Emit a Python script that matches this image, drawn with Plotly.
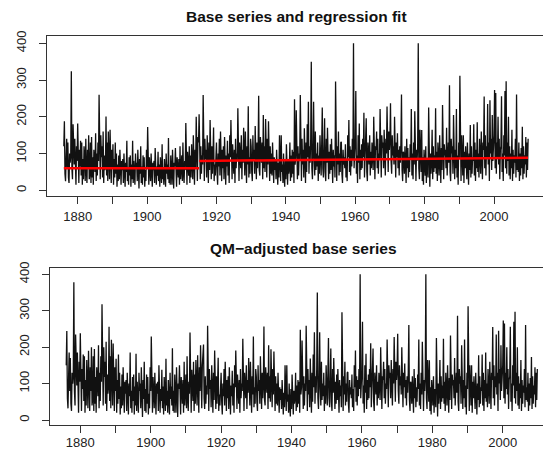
import numpy as np
import plotly.graph_objects as go

# 6 readings per year, 1876-1914 (before the break)
base_early = [
    120, 188, 45, 25, 90, 140,
    60, 130, 35, 20, 100, 75,
    95, 324, 60, 30, 180, 110,
    70, 140, 25, 15, 120, 80,
    182, 50, 20, 110, 65, 135,
    40, 130, 15, 85, 30, 120,
    95, 25, 140, 55, 20, 110,
    60, 150, 30, 45, 130, 20,
    145, 35, 90, 15, 110, 60,
    50, 155, 25, 100, 40, 130,
    80, 260, 45, 30, 150, 90,
    120, 35, 160, 20, 95, 55,
    70, 201, 40, 130, 25, 160,
    90, 30, 165, 50, 20, 110,
    60, 125, 15, 85, 35, 130,
    45, 100, 10, 70, 25, 95,
    30, 110, 40, 15, 80, 55,
    85, 20, 100, 35, 10, 75,
    50, 135, 25, 60, 15, 90,
    40, 95, 10, 70, 30, 135,
    20, 80, 45, 15, 100, 60,
    75, 25, 110, 30, 5, 85,
    45, 120, 20, 65, 15, 95,
    35, 90, 10, 55, 25, 110,
    60, 172, 30, 15, 90, 45,
    25, 100, 40, 10, 75, 55,
    80, 20, 115, 35, 15, 65,
    40, 105, 25, 70, 10, 90,
    55, 20, 125, 30, 60, 15,
    85, 35, 10, 100, 45, 70,
    30, 142, 20, 60, 15, 95,
    50, 15, 110, 40, 5, 75,
    65, 115, 25, 10, 90, 40,
    35, 85, 15, 120, 30, 60,
    95, 25, 130, 45, 20, 80,
    55, 183, 30, 15, 105, 70,
    40, 120, 20, 95, 35, 125,
    75, 30, 150, 50, 15, 110,
    60, 200, 40, 25, 145, 130,
]

# 1915-2009 (after the break, same in both panels)
base_late = [
    207, 60, 30, 120, 45, 95,
    70, 259, 40, 25, 140, 85,
    110, 35, 150, 60, 20, 130,
    55, 191, 80, 30, 120, 45,
    95, 171, 25, 70, 40, 115,
    130, 50, 15, 100, 65, 140,
    40, 160, 85, 25, 110, 60,
    120, 30, 145, 70, 15, 95,
    65, 135, 40, 100, 20, 150,
    90, 191, 55, 30, 125, 75,
    45, 110, 20, 140, 60, 100,
    80, 223, 45, 25, 130, 95,
    60, 150, 30, 110, 75, 170,
    105, 40, 160, 55, 20, 120,
    70, 229, 35, 90, 45, 140,
    120, 50, 25, 150, 80, 110,
    45, 175, 90, 30, 130, 60,
    100, 257, 55, 40, 145, 85,
    75, 130, 30, 205, 60, 120,
    50, 194, 90, 35, 140, 70,
    188, 60, 25, 120, 45, 100,
    40, 130, 70, 20, 90, 55,
    85, 30, 110, 45, 15, 75,
    35, 150, 60, 25, 150, 50,
    70, 20, 100, 40, 10, 85,
    30, 125, 55, 15, 80, 45,
    60, 130, 25, 95, 35, 110,
    45, 105, 20, 248, 70, 90,
    218, 55, 30, 120, 40, 100,
    80, 259, 45, 25, 140, 70,
    110, 35, 169, 60, 20, 130,
    50, 180, 90, 241, 45, 120,
    75, 140, 350, 60, 30, 115,
    241, 85, 40, 160, 55, 100,
    65, 130, 25, 95, 45, 150,
    90, 40, 125, 225, 60, 35,
    110, 196, 50, 25, 140, 75,
    170, 60, 30, 105, 45, 125,
    55, 140, 85, 20, 110, 65,
    95, 35, 296, 60, 25, 120,
    70, 160, 40, 100, 50, 130,
    132, 45, 20, 110, 70, 90,
    60, 125, 35, 85, 25, 150,
    90, 191, 50, 120, 40, 110,
    65, 140, 85, 400, 60, 100,
    130, 270, 45, 95, 20, 150,
    75, 182, 30, 110, 55, 125,
    60, 140, 90, 211, 35, 100,
    120, 196, 50, 25, 130, 85,
    70, 150, 40, 105, 60, 130,
    95, 55, 200, 80, 30, 120,
    110, 160, 60, 140, 45, 100,
    85, 221, 70, 35, 150, 115,
    130, 60, 165, 95, 40, 140,
    100, 228, 75, 50, 160, 110,
    140, 237, 80, 45, 150, 95,
    120, 70, 200, 100, 35, 130,
    90, 155, 60, 110, 40, 120,
    75, 130, 261, 55, 25, 105,
    100, 45, 120, 70, 20, 140,
    60, 115, 35, 90, 50, 125,
    85, 221, 40, 100, 30, 130,
    70, 215, 55, 25, 110, 80,
    120, 400, 60, 30, 165, 95,
    50, 164, 25, 90, 15, 110,
    70, 40, 120, 20, 85, 55,
    35, 225, 60, 10, 100, 45,
    80, 165, 30, 120, 50, 95,
    60, 223, 45, 105, 25, 130,
    90, 40, 150, 70, 20, 115,
    55, 232, 80, 30, 125, 95,
    110, 60, 170, 40, 90, 130,
    75, 286, 50, 25, 140, 100,
    120, 45, 205, 80, 30, 110,
    60, 221, 35, 95, 15, 130,
    85, 312, 50, 25, 150, 70,
    40, 150, 20, 105, 60, 120,
    70, 30, 130, 50, 15, 100,
    55, 178, 35, 120, 45, 90,
    80, 180, 40, 130, 25, 110,
    60, 185, 50, 100, 35, 140,
    95, 45, 160, 70, 30, 130,
    110, 255, 60, 150, 40, 120,
    90, 235, 70, 130, 25, 245,
    100, 140, 55, 205, 80, 120,
    150, 273, 60, 265, 45, 130,
    85, 200, 70, 140, 30, 110,
    120, 256, 50, 100, 25, 150,
    95, 270, 60, 297, 45, 130,
    80, 200, 40, 120, 30, 100,
    60, 165, 25, 110, 45, 95,
    75, 140, 35, 261, 55, 90,
    50, 130, 25, 100, 40, 115,
    60, 173, 30, 120, 45, 95,
    70, 145, 35, 130, 55, 140,
]

# QM-adjusted values for 1876-1914
qm_early = [
    150, 244, 60, 32, 115, 185,
    80, 170, 45, 25, 130, 100,
    120, 378, 80, 40, 235, 140,
    95, 185, 32, 20, 160, 105,
    238, 65, 25, 140, 85, 180,
    52, 175, 20, 110, 40, 165,
    120, 32, 190, 72, 25, 145,
    80, 200, 40, 58, 175, 25,
    195, 45, 118, 20, 145, 80,
    65, 205, 32, 130, 52, 175,
    105, 318, 60, 40, 200, 118,
    160, 45, 215, 25, 125, 72,
    92, 256, 52, 175, 32, 220,
    118, 40, 210, 65, 25, 145,
    80, 168, 20, 110, 45, 180,
    58, 130, 15, 92, 32, 125,
    40, 145, 52, 20, 105, 72,
    110, 25, 130, 45, 15, 100,
    65, 185, 32, 80, 20, 118,
    52, 125, 15, 92, 40, 182,
    25, 105, 58, 20, 130, 80,
    100, 32, 145, 40, 8, 110,
    58, 160, 25, 85, 20, 125,
    45, 118, 15, 72, 32, 145,
    80, 229, 40, 20, 118, 58,
    32, 130, 52, 15, 100, 72,
    105, 25, 150, 45, 20, 85,
    52, 138, 32, 92, 15, 118,
    72, 25, 168, 40, 80, 20,
    110, 45, 15, 130, 58, 92,
    40, 197, 25, 80, 20, 125,
    65, 20, 145, 52, 8, 100,
    85, 150, 32, 15, 118, 52,
    45, 110, 20, 160, 40, 80,
    125, 32, 175, 58, 25, 105,
    72, 240, 40, 20, 138, 92,
    52, 160, 25, 125, 45, 165,
    100, 40, 178, 65, 20, 145,
    80, 205, 52, 32, 150, 185,
]

# step regression fit
fit1_years = [1876, 1915]
fit1_vals = [60, 60]
fit2_years = [1915, 2009.8]
fit2_vals = [80, 88.5]

decades = list(range(1880, 2001, 10))
decade_text = [str(d) if d % 20 == 0 else "" for d in decades]
ytick_vals = [0, 100, 200, 300, 400]

base = base_early + base_late
qm = qm_early + base_late
years = 1876 + np.arange(len(base)) / 6

# page body has an 8px margin, so the figure is sized/placed to compensate
OFF = 8
W, H = 551 - OFF, 452 - OFF


def px(x):
    return (x - OFF) / W


def py(y):
    return 1 - (y - OFF) / H


font = "Liberation Sans, Arial, sans-serif"

fig = go.Figure()
fig.add_trace(go.Scatter(x=years, y=base, mode="lines",
                         line=dict(color="#111111", width=1.3), xaxis="x", yaxis="y"))
fig.add_trace(go.Scatter(x=fit1_years, y=fit1_vals, mode="lines",
                         line=dict(color="#ff0000", width=2.5), xaxis="x", yaxis="y"))
fig.add_trace(go.Scatter(x=fit2_years, y=fit2_vals, mode="lines",
                         line=dict(color="#ff0000", width=2.5), xaxis="x", yaxis="y"))
fig.add_trace(go.Scatter(x=years, y=qm, mode="lines",
                         line=dict(color="#111111", width=1.3), xaxis="x2", yaxis="y2"))

ax_common = dict(showline=True, linecolor="#333333", linewidth=1.3,
                 ticks="outside", ticklen=7, tickwidth=1, tickcolor="#333333",
                 showgrid=False, zeroline=False, automargin=False,
                 tickfont=dict(family=font, size=13, color="#222222"))

fig.update_layout(
    width=W, height=H, autosize=False,
    margin=dict(l=0, r=0, t=0, b=0, pad=0, autoexpand=False),
    paper_bgcolor="white", plot_bgcolor="white",
    showlegend=False,
    xaxis=dict(domain=[px(47.3), px(545)], range=[1871.24, 2014.7], anchor="y",
               mirror=True, tickvals=decades, ticktext=decade_text,
               ticklabelstandoff=2, **ax_common),
    yaxis=dict(domain=[py(195.7), py(36)], range=[-14.7, 419.9], anchor="x",
               mirror=True, tickvals=ytick_vals, tickangle=-90,
               ticklabelstandoff=8, **ax_common),
    xaxis2=dict(domain=[px(50), 1], range=[1871.39, 2013.72], anchor="y2",
                mirror=True, tickvals=decades, ticktext=decade_text,
                ticklabelstandoff=-2, **ax_common),
    yaxis2=dict(domain=[py(425), py(268.3)], range=[-13.7, 416.5], anchor="x2",
                tickvals=ytick_vals, tickangle=-90,
                ticklabelstandoff=8, **ax_common),
    annotations=[
        dict(text="<b>Base series and regression fit</b>", xref="paper", yref="paper",
             x=px(296), y=py(16), xanchor="center", yanchor="middle",
             showarrow=False, font=dict(family=font, size=15.5, color="#111111")),
        dict(text="<b>QM\u2212adjusted base series</b>", xref="paper", yref="paper",
             x=px(303.5), y=py(248), xanchor="center", yanchor="middle",
             showarrow=False, font=dict(family=font, size=15.5, color="#111111")),
    ],
)

fig.write_html("out.html")
